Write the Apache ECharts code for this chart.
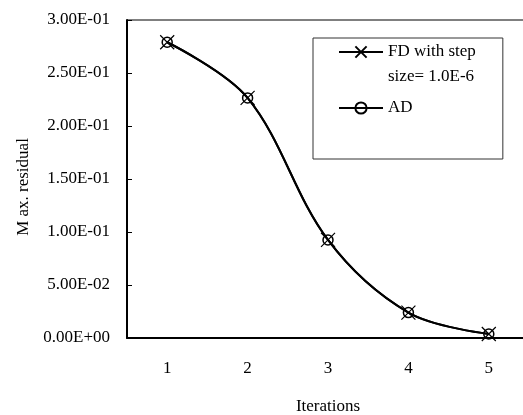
<!DOCTYPE html>
<html>
<head>
<meta charset="utf-8">
<script src="https://cdn.jsdelivr.net/npm/echarts@6/dist/echarts.min.js"></script>
<style>
	html, body { margin: 0; padding: 0; background: #fff; }
	#chart { width: 523px; height: 415px; }
</style>
</head>
<body>
<div id="chart"></div>
<script>
// data
const iterations = ['1', '2', '3', '4', '5'];
const fdResidual = [0.279, 0.2265, 0.0925, 0.0240, 0.0038];
const adResidual = [0.279, 0.2265, 0.0925, 0.0240, 0.0038];
const yTickLabels = ['0.00E+00', '5.00E-02', '1.00E-01', '1.50E-01', '2.00E-01', '2.50E-01', '3.00E-01'];

const serif = 'Liberation Serif';
const crossPath = 'path://M0,0L10,10M10,0L0,10';
const fdName = 'FD with step\nsize= 1.0E-6';

const myChart = echarts.init(document.getElementById('chart'));

const option = {
	animation: false,
	textStyle: { fontFamily: serif, color: '#000' },
	grid: {
		left: 127,
		top: 20,
		width: 402,
		bottom: 77,
		outerBoundsMode: 'none',
		show: true,
		borderColor: '#000',
		borderWidth: 1
	},
	legend: {
		orient: 'vertical',
		left: 313,
		top: 38,
		padding: [-11, 27, 39.5, 25],
		itemWidth: 44,
		itemHeight: 14,
		itemGap: 11,
		borderColor: '#333',
		borderWidth: 1,
		textStyle: {
			fontFamily: serif,
			fontSize: 17,
			color: '#000',
			lineHeight: 23,
			rich: {
				a: { fontFamily: serif, fontSize: 17, color: '#000', lineHeight: 50 },
				b: { fontFamily: serif, fontSize: 17, color: '#000', lineHeight: 0 }
			}
		},
		// second line of the FD label hangs below its marker, as in the original
		formatter: (name) => {
			const parts = name.split('\n');
			return parts.length > 1 ? '{a|' + parts[0] + '}\n{b|' + parts[1] + '}' : name;
		},
		data: [fdName, 'AD']
	},
	xAxis: {
		type: 'category',
		data: iterations,
		boundaryGap: true,
		name: 'Iterations',
		nameLocation: 'middle',
		nameGap: 60,
		nameTextStyle: { fontFamily: serif, fontSize: 17, color: '#000' },
		axisLine: { lineStyle: { color: '#000', width: 2 } },
		axisTick: { inside: true, length: 5, lineStyle: { color: '#000' } },
		axisLabel: { fontFamily: serif, fontSize: 17, color: '#000', margin: 22 },
		splitLine: { show: false }
	},
	yAxis: {
		type: 'value',
		min: 0,
		max: 0.3,
		interval: 0.05,
		name: 'M ax. residual',
		nameLocation: 'middle',
		nameGap: 93,
		nameTextStyle: { fontFamily: serif, fontSize: 17, color: '#000', padding: [0, 16, 0, 0] },
		axisLine: { show: true, lineStyle: { color: '#000', width: 2 } },
		axisTick: { show: true, inside: true, length: 5, lineStyle: { color: '#000' } },
		axisLabel: {
			fontFamily: serif,
			fontSize: 17,
			color: '#000',
			margin: 17,
			formatter: (value, index) => yTickLabels[index]
		},
		splitLine: { show: false }
	},
	series: [
		{
			name: fdName,
			type: 'line',
			data: fdResidual,
			smooth: 0.35,
			symbol: crossPath,
			symbolSize: 14,
			lineStyle: { color: '#000', width: 2 },
			itemStyle: { color: 'transparent', borderColor: '#000', borderWidth: 1.2 },
			z: 3
		},
		{
			name: 'AD',
			type: 'line',
			data: adResidual,
			smooth: 0.35,
			symbol: 'circle',
			symbolSize: 10,
			lineStyle: { color: '#000', width: 2 },
			itemStyle: { color: 'transparent', borderColor: '#000', borderWidth: 1.5 },
			z: 2
		}
	]
};

myChart.setOption(option);

window.addEventListener('resize', () => {
	myChart.resize();
});
</script>
</body>
</html>
